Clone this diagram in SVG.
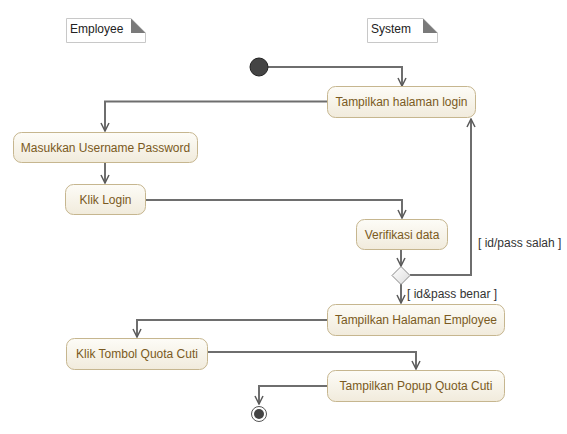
<svg xmlns="http://www.w3.org/2000/svg" width="567" height="434" viewBox="0 0 567 434">
<defs>
<linearGradient id="g" x1="0" y1="0" x2="0" y2="1">
<stop offset="0" stop-color="#fdfcf7"/>
<stop offset="1" stop-color="#f1ebdc"/>
</linearGradient>
<linearGradient id="dg" x1="0" y1="0" x2="1" y2="1">
<stop offset="0" stop-color="#ffffff"/>
<stop offset="1" stop-color="#dcdcdc"/>
</linearGradient>
<marker id="arr" viewBox="0 0 10 10" refX="9" refY="5" markerWidth="10" markerHeight="10" markerUnits="userSpaceOnUse" orient="auto">
<path d="M1,1 L9,5 L1,9" fill="none" stroke="#5a5a5a" stroke-width="1.5"/>
</marker>
</defs>
<style>
.act rect{fill:url(#g);stroke:#c6b68f;stroke-width:1}
.act text{font-family:"Liberation Sans",Arial,sans-serif;font-size:12px;fill:#7a5a22;text-anchor:middle}
.note path.b{fill:#ffffff;stroke:#c8c8c8;stroke-width:1}
.note path.f{fill:#7a7a7a}
.note text{font-family:"Liberation Sans",Arial,sans-serif;font-size:12px;fill:#222}
.c path{fill:none;stroke:#6e6e6e;stroke-width:2;marker-end:url(#arr)}
.lbl{font-family:"Liberation Sans",Arial,sans-serif;font-size:12px;fill:#333}
</style>
<rect width="567" height="434" fill="#ffffff"/>
<g id="note-employee" class="note">
<path class="b" d="M66.5,18.5 H131 L145.5,33 V42.5 H66.5 Z"/>
<path class="f" d="M131,18.5 L145.5,33 H131 Z"/>
<text x="70" y="33">Employee</text>
</g>
<g id="note-system" class="note">
<path class="b" d="M367.5,18.5 H423 L437.5,33 V42.5 H367.5 Z"/>
<path class="f" d="M423,18.5 L437.5,33 H423 Z"/>
<text x="371" y="33">System</text>
</g>
<g class="c" id="connectors">
<path d="M268,67 H402 V86"/>
<path d="M327,101.5 H105 V131"/>
<path d="M105,162 V183"/>
<path d="M146,200 H402 V218"/>
<path d="M401,249 V266"/>
<path d="M410,275 H471 V119"/>
<path d="M401,284 V303"/>
<path d="M327,320 H137 V337"/>
<path d="M207,352 H416 V369"/>
<path d="M327,386 H259 V404"/>
</g>
<g id="start"><circle cx="259" cy="67" r="9" fill="#444" stroke="#222" stroke-width="1"/></g>
<g id="tampilkan-login" class="act"><rect x="327.5" y="86.5" width="148" height="31" rx="8"/><text x="401.5" y="106">Tampilkan halaman login</text></g>
<g id="masukkan" class="act"><rect x="13.5" y="132.5" width="184" height="30" rx="8"/><text x="105.5" y="151.5">Masukkan Username Password</text></g>
<g id="klik-login" class="act"><rect x="65.5" y="184.5" width="80" height="30" rx="8"/><text x="105.5" y="203.5">Klik Login</text></g>
<g id="verifikasi" class="act"><rect x="356.5" y="219.5" width="91" height="30" rx="8"/><text x="402" y="238.5">Verifikasi data</text></g>
<g id="decision"><path d="M401,266.5 L410,275.5 L401,284.5 L392,275.5 Z" fill="url(#dg)" stroke="#888" stroke-width="1"/></g>
<text class="lbl" x="478" y="247">[ id/pass salah ]</text>
<text class="lbl" x="407" y="298">[ id&amp;pass benar ]</text>
<g id="tampilkan-employee" class="act"><rect x="327.5" y="304.5" width="177" height="31" rx="8"/><text x="416" y="324">Tampilkan Halaman Employee</text></g>
<g id="klik-tombol" class="act"><rect x="66.5" y="338.5" width="141" height="31" rx="8"/><text x="137" y="358">Klik Tombol Quota Cuti</text></g>
<g id="tampilkan-popup" class="act"><rect x="327.5" y="370.5" width="177" height="31" rx="8"/><text x="416" y="390">Tampilkan Popup Quota Cuti</text></g>
<g id="end"><circle cx="259" cy="414" r="7.5" fill="#fff" stroke="#555" stroke-width="1"/><circle cx="259" cy="414" r="5" fill="#444"/></g>
</svg>
